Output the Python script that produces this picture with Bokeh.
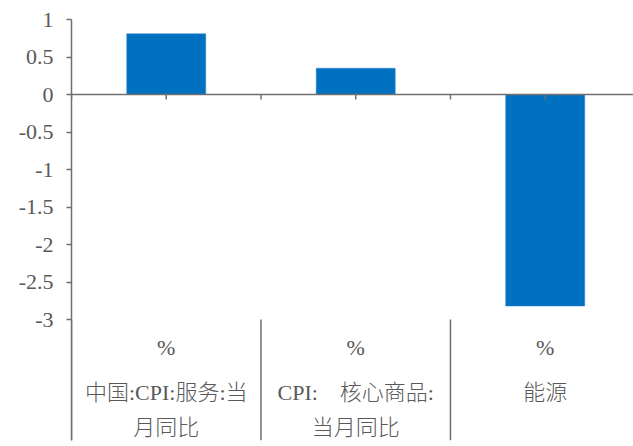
from bokeh.plotting import figure
from bokeh.models import Range1d, LinearAxis, FixedTicker, Span
from bokeh.core.properties import value
from bokeh.embed import file_html
from bokeh.resources import INLINE

# ---- data ----
categories = ["中国:CPI:服务:当月同比", "CPI:\u3000核心商品:当月同比", "能源"]
label_line1 = ["中国:CPI:服务:当", "CPI:\u3000核心商品:", "能源"]
label_line2 = ["月同比", "当月同比", ""]
units = ["%", "%", "%"]
values = [0.81, 0.35, -2.82]
y_ticks = [1, 0.5, 0, -0.5, -1, -1.5, -2, -2.5, -3]
y_tick_labels = ["1", "0.5", "0", "-0.5", "-1", "-1.5", "-2", "-2.5", "-3"]

n = len(categories)
centers = [i + 0.5 for i in range(n)]
bounds = [float(i) for i in range(n + 1)]
x_ticks = [i * 0.5 for i in range(2 * n + 1)]

font_str = "Liberation Serif, Noto Sans CJK SC Light, Noto Sans CJK SC"
text_color = "#595959"
axis_color = "#6f6f6f"

Y0, Y1 = -4.613, 1.0
H, TOP, BOTTOM = 446, 19, 6
units_per_px = (Y1 - Y0) / (H - TOP - BOTTOM)

p = figure(width=633, height=H, output_backend="svg", toolbar_location=None,
           x_range=Range1d(0, 2.966), y_range=Range1d(Y0, Y1),
           min_border_left=71, min_border_right=0, min_border_top=TOP, min_border_bottom=BOTTOM,
           x_axis_type=None, y_axis_type=None)
p.outline_line_color = None
p.xgrid.visible = False
p.ygrid.visible = False

# y axis
yax = LinearAxis(ticker=FixedTicker(ticks=y_ticks))
yax.major_label_overrides = {t: l for t, l in zip(y_ticks, y_tick_labels)}
yax.major_tick_in = 0
yax.major_tick_out = 5
yax.minor_tick_out = 0
yax.minor_tick_in = 0
yax.major_label_standoff = 13
yax.axis_line_color = axis_color
yax.axis_line_width = 1.5
yax.major_tick_line_color = axis_color
yax.major_tick_line_width = 1.5
yax.major_label_text_font = "Liberation Serif"
yax.major_label_text_font_size = "22px"
yax.major_label_text_color = text_color
p.add_layout(yax, "left")

# bars
p.vbar(x=centers, top=values, bottom=0, width=0.417,
       fill_color="#0070C0", line_color="#2a86d0", line_width=0.5)

# zero line with small ticks
p.add_layout(Span(location=0, dimension="width", line_color=axis_color, line_width=1.5))
p.segment(x0=x_ticks, x1=x_ticks, y0=[0] * len(x_ticks), y1=[-5 * units_per_px] * len(x_ticks),
          line_color=axis_color, line_width=1.5)

# separators in label area
p.segment(x0=bounds, x1=bounds, y0=[y_ticks[-1]] * len(bounds), y1=[Y0] * len(bounds),
          line_color=axis_color, line_width=1.5)

# category labels
common = dict(text_align="center", text_baseline="middle",
              text_font=value(font_str), text_font_size="22px", text_color=text_color)
p.text(x=centers, y=[y_ticks[-1]] * n, text=units, y_offset=28, **common)
p.text(x=centers, y=[y_ticks[-1]] * n, text=label_line1, y_offset=73, **common)
l2x = [c for c, t in zip(centers, label_line2) if t]
l2t = [t for t in label_line2 if t]
p.text(x=l2x, y=[y_ticks[-1]] * len(l2x), text=l2t, y_offset=108, **common)

open("out.html", "w").write(file_html(p, INLINE))
